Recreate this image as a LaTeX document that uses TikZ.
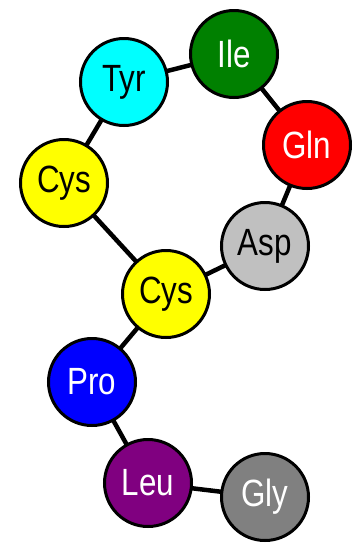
\documentclass[tikz,border=0pt]{standalone}
\usepackage{fontspec}
\setmainfont{Liberation Sans}
\definecolor{aaCyan}{RGB}{0,255,255}
\definecolor{aaGreen}{RGB}{0,128,0}
\definecolor{aaRed}{RGB}{255,0,0}
\definecolor{aaYellow}{RGB}{255,255,0}
\definecolor{aaSilver}{RGB}{192,192,192}
\definecolor{aaBlue}{RGB}{0,0,255}
\definecolor{aaPurple}{RGB}{128,0,128}
\definecolor{aaGray}{RGB}{128,128,128}
\newcommand{\aalabel}[1]{\scalebox{0.95}[1.15]{#1}}
\begin{document}
\begin{tikzpicture}[x=1pt,y=-1pt,
  residue/.style={circle,draw=black,line width=3pt,minimum size=87pt,inner sep=0pt,outer sep=0pt,
    font=\fontsize{33}{33}\selectfont},
  bond/.style={line width=4.5pt,black}]
\useasboundingbox (0,0) rectangle (355,544);
\node[residue,fill=aaCyan,text=black] (tyr) at (124,82) {\aalabel{Tyr}};
\node[residue,fill=aaGreen,text=white] (ile) at (234,54) {\aalabel{Ile}};
\node[residue,fill=aaRed,text=white] (gln) at (307,145) {\aalabel{Gln}};
\node[residue,fill=aaYellow,text=black] (cys1) at (64,183) {\aalabel{Cys}};
\node[residue,fill=aaSilver,text=black] (asp) at (265,246) {\aalabel{Asp}};
\node[residue,fill=aaYellow,text=black] (cys2) at (166,294) {\aalabel{Cys}};
\node[residue,fill=aaBlue,text=white] (pro) at (92,382) {\aalabel{Pro}};
\node[residue,fill=aaPurple,text=white] (leu) at (148,483) {\aalabel{Leu}};
\node[residue,fill=aaGray,text=white] (gly) at (265,497) {\aalabel{Gly}};
\draw[bond] (tyr) -- (ile);
\draw[bond] (ile) -- (gln);
\draw[bond] (gln) -- (asp);
\draw[bond] (asp) -- (cys2);
\draw[bond] (tyr) -- (cys1);
\draw[bond] (cys1) -- (cys2);
\draw[bond] (cys2) -- (pro);
\draw[bond] (pro) -- (leu);
\draw[bond] (leu) -- (gly);
\end{tikzpicture}
\end{document}
